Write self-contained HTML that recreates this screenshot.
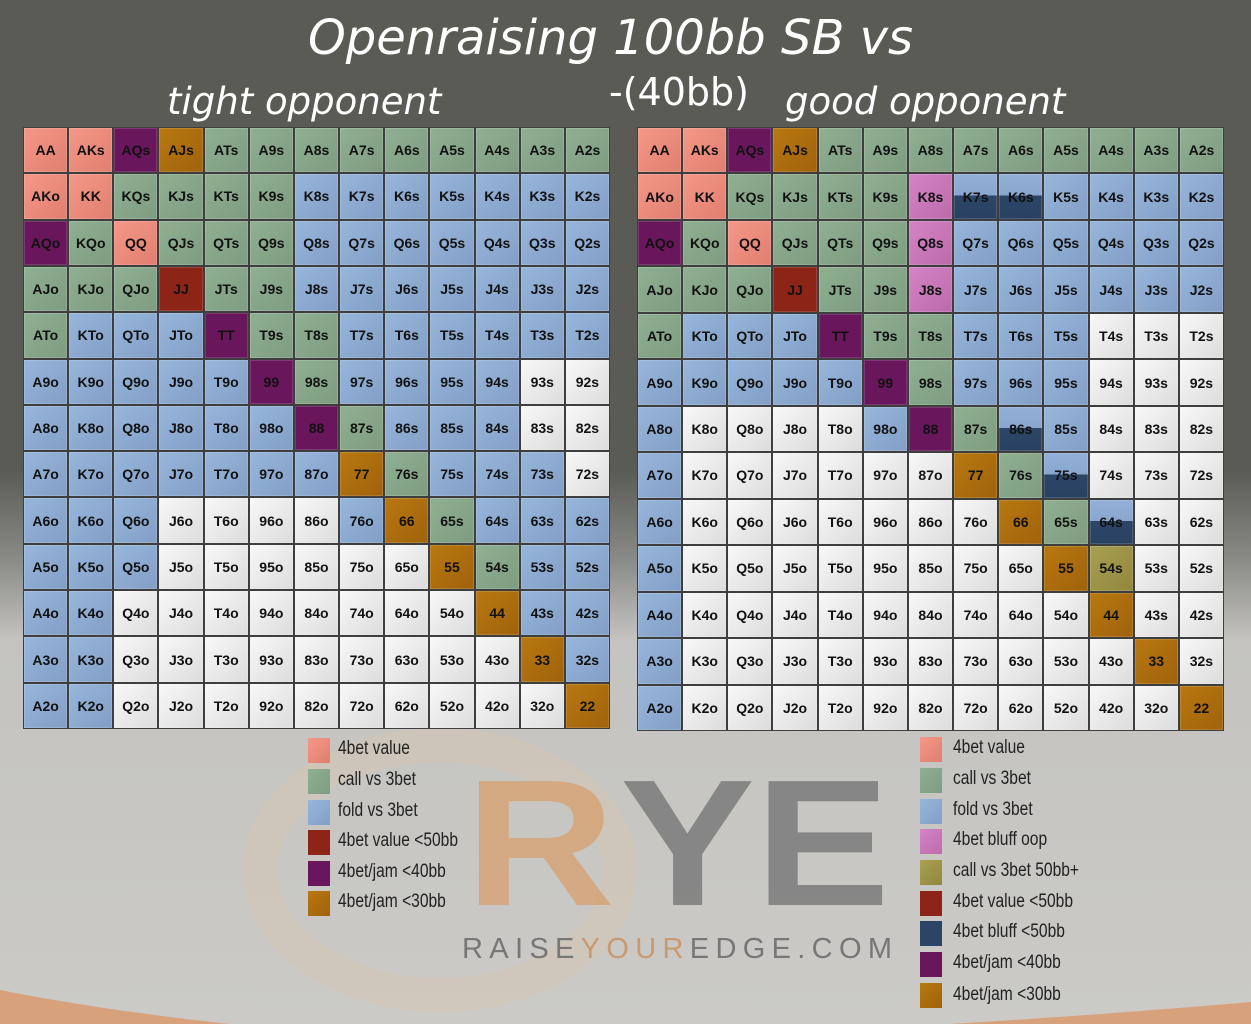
<!DOCTYPE html>
<html><head><meta charset="utf-8"><style>
body{margin:0;width:1251px;height:1024px;overflow:hidden;position:relative;font-family:"Liberation Sans",sans-serif;
background:linear-gradient(#5b5b56 0px,#5b5b56 470px,#8a8a86 560px,#c4c3bf 640px,#cbcac6 1024px);}
.t{position:absolute;color:#fff;font-family:"DejaVu Sans",sans-serif;white-space:nowrap;}
.grid{position:absolute;display:grid;grid-template-columns:repeat(13,1fr);grid-template-rows:repeat(13,1fr);gap:2px;background:#3e3e3e;padding:1px;box-sizing:border-box;}
.grid div{display:flex;align-items:center;justify-content:center;font-weight:bold;font-size:14px;color:#111;box-shadow:inset 0 0 0 1px rgba(255,255,255,.15);}
.r{background:linear-gradient(135deg,#f59888,#e07e70)}
.g{background:linear-gradient(135deg,#90b092,#7e9c80)}
.b{background:linear-gradient(135deg,#98b6dc,#829ec6)}
.w{background:linear-gradient(135deg,#f8f8f8,#dcdcdc)}
.p{background:#6a165c}
.o{background:linear-gradient(135deg,#b87810,#a0620c)}
.d{background:#8c2418}
.k{background:linear-gradient(135deg,#d484c4,#bc6aac)}
.v{background:linear-gradient(135deg,#aaa052,#90873e)}
.h{background:linear-gradient(#92b0d8 0,#8aa6ce 48%,#2c4466 48%,#2a4262 100%)}
.leg{position:absolute;font-size:19px;color:#222;white-space:nowrap;}
.leg span{display:inline-block;transform:scaleX(.82);transform-origin:left;}
.sw{position:absolute;width:22px;height:25px;}
</style></head><body>
<div class="t" style="left:308px;top:10px;font-size:48px;font-style:italic;">Openraising 100bb SB vs</div>
<div class="t" style="left:167px;top:80px;font-size:37px;font-style:italic;">tight opponent</div>
<div class="t" style="left:609px;top:70px;font-size:38px;">-(40bb)</div>
<div class="t" style="left:785px;top:80px;font-size:37px;font-style:italic;">good opponent</div>

<!-- logo watermark -->
<svg style="position:absolute;left:0;top:720px" width="1251" height="304">
<ellipse cx="440" cy="150" rx="180" ry="125" fill="none" stroke="#d6c6b2" stroke-width="34" opacity=".45"/>
<path d="M0 270 Q100 290 230 304 L0 304Z" fill="#e0874a" opacity=".6"/>
<path d="M950 304 Q1100 295 1251 282 L1251 304Z" fill="#e0874a" opacity=".6"/>
<text x="465" y="185" font-family="Liberation Sans" font-weight="bold" font-size="180" fill="#d6a478" opacity=".85" textLength="150" lengthAdjust="spacingAndGlyphs">R</text>
<text x="620" y="185" font-family="Liberation Sans" font-weight="bold" font-size="180" fill="#808080" opacity=".9" textLength="270" lengthAdjust="spacingAndGlyphs">YE</text>
<text x="462" y="238" font-family="Liberation Sans" font-size="29" fill="#777" textLength="430" lengthAdjust="spacing">RAISE<tspan fill="#c99a70">YOUR</tspan>EDGE.COM</text>
</svg>

<div class="grid" style="left:23px;top:127px;width:587px;height:602px;">
<div class="r">AA</div><div class="r">AKs</div><div class="p">AQs</div><div class="o">AJs</div><div class="g">ATs</div><div class="g">A9s</div><div class="g">A8s</div><div class="g">A7s</div><div class="g">A6s</div><div class="g">A5s</div><div class="g">A4s</div><div class="g">A3s</div><div class="g">A2s</div>
<div class="r">AKo</div><div class="r">KK</div><div class="g">KQs</div><div class="g">KJs</div><div class="g">KTs</div><div class="g">K9s</div><div class="b">K8s</div><div class="b">K7s</div><div class="b">K6s</div><div class="b">K5s</div><div class="b">K4s</div><div class="b">K3s</div><div class="b">K2s</div>
<div class="p">AQo</div><div class="g">KQo</div><div class="r">QQ</div><div class="g">QJs</div><div class="g">QTs</div><div class="g">Q9s</div><div class="b">Q8s</div><div class="b">Q7s</div><div class="b">Q6s</div><div class="b">Q5s</div><div class="b">Q4s</div><div class="b">Q3s</div><div class="b">Q2s</div>
<div class="g">AJo</div><div class="g">KJo</div><div class="g">QJo</div><div class="d">JJ</div><div class="g">JTs</div><div class="g">J9s</div><div class="b">J8s</div><div class="b">J7s</div><div class="b">J6s</div><div class="b">J5s</div><div class="b">J4s</div><div class="b">J3s</div><div class="b">J2s</div>
<div class="g">ATo</div><div class="b">KTo</div><div class="b">QTo</div><div class="b">JTo</div><div class="p">TT</div><div class="g">T9s</div><div class="g">T8s</div><div class="b">T7s</div><div class="b">T6s</div><div class="b">T5s</div><div class="b">T4s</div><div class="b">T3s</div><div class="b">T2s</div>
<div class="b">A9o</div><div class="b">K9o</div><div class="b">Q9o</div><div class="b">J9o</div><div class="b">T9o</div><div class="p">99</div><div class="g">98s</div><div class="b">97s</div><div class="b">96s</div><div class="b">95s</div><div class="b">94s</div><div class="w">93s</div><div class="w">92s</div>
<div class="b">A8o</div><div class="b">K8o</div><div class="b">Q8o</div><div class="b">J8o</div><div class="b">T8o</div><div class="b">98o</div><div class="p">88</div><div class="g">87s</div><div class="b">86s</div><div class="b">85s</div><div class="b">84s</div><div class="w">83s</div><div class="w">82s</div>
<div class="b">A7o</div><div class="b">K7o</div><div class="b">Q7o</div><div class="b">J7o</div><div class="b">T7o</div><div class="b">97o</div><div class="b">87o</div><div class="o">77</div><div class="g">76s</div><div class="b">75s</div><div class="b">74s</div><div class="b">73s</div><div class="w">72s</div>
<div class="b">A6o</div><div class="b">K6o</div><div class="b">Q6o</div><div class="w">J6o</div><div class="w">T6o</div><div class="w">96o</div><div class="w">86o</div><div class="b">76o</div><div class="o">66</div><div class="g">65s</div><div class="b">64s</div><div class="b">63s</div><div class="b">62s</div>
<div class="b">A5o</div><div class="b">K5o</div><div class="b">Q5o</div><div class="w">J5o</div><div class="w">T5o</div><div class="w">95o</div><div class="w">85o</div><div class="w">75o</div><div class="w">65o</div><div class="o">55</div><div class="g">54s</div><div class="b">53s</div><div class="b">52s</div>
<div class="b">A4o</div><div class="b">K4o</div><div class="w">Q4o</div><div class="w">J4o</div><div class="w">T4o</div><div class="w">94o</div><div class="w">84o</div><div class="w">74o</div><div class="w">64o</div><div class="w">54o</div><div class="o">44</div><div class="b">43s</div><div class="b">42s</div>
<div class="b">A3o</div><div class="b">K3o</div><div class="w">Q3o</div><div class="w">J3o</div><div class="w">T3o</div><div class="w">93o</div><div class="w">83o</div><div class="w">73o</div><div class="w">63o</div><div class="w">53o</div><div class="w">43o</div><div class="o">33</div><div class="b">32s</div>
<div class="b">A2o</div><div class="b">K2o</div><div class="w">Q2o</div><div class="w">J2o</div><div class="w">T2o</div><div class="w">92o</div><div class="w">82o</div><div class="w">72o</div><div class="w">62o</div><div class="w">52o</div><div class="w">42o</div><div class="w">32o</div><div class="o">22</div>
</div>

<div class="grid" style="left:637px;top:127px;width:587px;height:604px;">
<div class="r">AA</div><div class="r">AKs</div><div class="p">AQs</div><div class="o">AJs</div><div class="g">ATs</div><div class="g">A9s</div><div class="g">A8s</div><div class="g">A7s</div><div class="g">A6s</div><div class="g">A5s</div><div class="g">A4s</div><div class="g">A3s</div><div class="g">A2s</div>
<div class="r">AKo</div><div class="r">KK</div><div class="g">KQs</div><div class="g">KJs</div><div class="g">KTs</div><div class="g">K9s</div><div class="k">K8s</div><div class="h">K7s</div><div class="h">K6s</div><div class="b">K5s</div><div class="b">K4s</div><div class="b">K3s</div><div class="b">K2s</div>
<div class="p">AQo</div><div class="g">KQo</div><div class="r">QQ</div><div class="g">QJs</div><div class="g">QTs</div><div class="g">Q9s</div><div class="k">Q8s</div><div class="b">Q7s</div><div class="b">Q6s</div><div class="b">Q5s</div><div class="b">Q4s</div><div class="b">Q3s</div><div class="b">Q2s</div>
<div class="g">AJo</div><div class="g">KJo</div><div class="g">QJo</div><div class="d">JJ</div><div class="g">JTs</div><div class="g">J9s</div><div class="k">J8s</div><div class="b">J7s</div><div class="b">J6s</div><div class="b">J5s</div><div class="b">J4s</div><div class="b">J3s</div><div class="b">J2s</div>
<div class="g">ATo</div><div class="b">KTo</div><div class="b">QTo</div><div class="b">JTo</div><div class="p">TT</div><div class="g">T9s</div><div class="g">T8s</div><div class="b">T7s</div><div class="b">T6s</div><div class="b">T5s</div><div class="w">T4s</div><div class="w">T3s</div><div class="w">T2s</div>
<div class="b">A9o</div><div class="b">K9o</div><div class="b">Q9o</div><div class="b">J9o</div><div class="b">T9o</div><div class="p">99</div><div class="g">98s</div><div class="b">97s</div><div class="b">96s</div><div class="b">95s</div><div class="w">94s</div><div class="w">93s</div><div class="w">92s</div>
<div class="b">A8o</div><div class="w">K8o</div><div class="w">Q8o</div><div class="w">J8o</div><div class="w">T8o</div><div class="b">98o</div><div class="p">88</div><div class="g">87s</div><div class="h">86s</div><div class="b">85s</div><div class="w">84s</div><div class="w">83s</div><div class="w">82s</div>
<div class="b">A7o</div><div class="w">K7o</div><div class="w">Q7o</div><div class="w">J7o</div><div class="w">T7o</div><div class="w">97o</div><div class="w">87o</div><div class="o">77</div><div class="g">76s</div><div class="h">75s</div><div class="w">74s</div><div class="w">73s</div><div class="w">72s</div>
<div class="b">A6o</div><div class="w">K6o</div><div class="w">Q6o</div><div class="w">J6o</div><div class="w">T6o</div><div class="w">96o</div><div class="w">86o</div><div class="w">76o</div><div class="o">66</div><div class="g">65s</div><div class="h">64s</div><div class="w">63s</div><div class="w">62s</div>
<div class="b">A5o</div><div class="w">K5o</div><div class="w">Q5o</div><div class="w">J5o</div><div class="w">T5o</div><div class="w">95o</div><div class="w">85o</div><div class="w">75o</div><div class="w">65o</div><div class="o">55</div><div class="v">54s</div><div class="w">53s</div><div class="w">52s</div>
<div class="b">A4o</div><div class="w">K4o</div><div class="w">Q4o</div><div class="w">J4o</div><div class="w">T4o</div><div class="w">94o</div><div class="w">84o</div><div class="w">74o</div><div class="w">64o</div><div class="w">54o</div><div class="o">44</div><div class="w">43s</div><div class="w">42s</div>
<div class="b">A3o</div><div class="w">K3o</div><div class="w">Q3o</div><div class="w">J3o</div><div class="w">T3o</div><div class="w">93o</div><div class="w">83o</div><div class="w">73o</div><div class="w">63o</div><div class="w">53o</div><div class="w">43o</div><div class="o">33</div><div class="w">32s</div>
<div class="b">A2o</div><div class="w">K2o</div><div class="w">Q2o</div><div class="w">J2o</div><div class="w">T2o</div><div class="w">92o</div><div class="w">82o</div><div class="w">72o</div><div class="w">62o</div><div class="w">52o</div><div class="w">42o</div><div class="w">32o</div><div class="o">22</div>
</div>

<!-- left legend -->
<div class="sw r" style="left:308px;top:738px"></div><div class="leg" style="left:338px;top:738px"><span>4bet value</span></div>
<div class="sw g" style="left:308px;top:769px"></div><div class="leg" style="left:338px;top:769px"><span>call vs 3bet</span></div>
<div class="sw b" style="left:308px;top:800px"></div><div class="leg" style="left:338px;top:800px"><span>fold vs 3bet</span></div>
<div class="sw d" style="left:308px;top:830px"></div><div class="leg" style="left:338px;top:830px"><span>4bet value &lt;50bb</span></div>
<div class="sw p" style="left:308px;top:861px"></div><div class="leg" style="left:338px;top:861px"><span>4bet/jam &lt;40bb</span></div>
<div class="sw o" style="left:308px;top:891px"></div><div class="leg" style="left:338px;top:891px"><span>4bet/jam &lt;30bb</span></div>

<!-- right legend -->
<div class="sw r" style="left:920px;top:737px"></div><div class="leg" style="left:953px;top:737px"><span>4bet value</span></div>
<div class="sw g" style="left:920px;top:768px"></div><div class="leg" style="left:953px;top:768px"><span>call vs 3bet</span></div>
<div class="sw b" style="left:920px;top:799px"></div><div class="leg" style="left:953px;top:799px"><span>fold vs 3bet</span></div>
<div class="sw k" style="left:920px;top:829px"></div><div class="leg" style="left:953px;top:829px"><span>4bet bluff oop</span></div>
<div class="sw v" style="left:920px;top:860px"></div><div class="leg" style="left:953px;top:860px"><span>call vs 3bet 50bb+</span></div>
<div class="sw d" style="left:920px;top:891px"></div><div class="leg" style="left:953px;top:891px"><span>4bet value &lt;50bb</span></div>
<div class="sw" style="left:920px;top:921px;background:#2c4466"></div><div class="leg" style="left:953px;top:921px"><span>4bet bluff &lt;50bb</span></div>
<div class="sw p" style="left:920px;top:952px"></div><div class="leg" style="left:953px;top:952px"><span>4bet/jam &lt;40bb</span></div>
<div class="sw o" style="left:920px;top:983px"></div><div class="leg" style="left:953px;top:984px"><span>4bet/jam &lt;30bb</span></div>
</body></html>
